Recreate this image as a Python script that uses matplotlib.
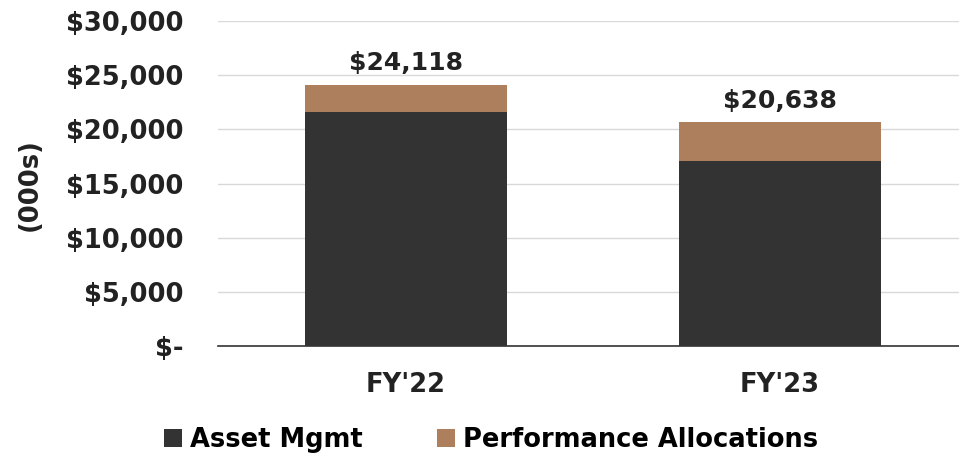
import matplotlib.pyplot as plt
from matplotlib.ticker import FuncFormatter

# datos del grafico
years = ["FY'22", "FY'23"]
asset_mgmt = [21575, 17035]
perf_alloc = [2543, 3603]
totals = [24118, 20638]
yticks = [0, 5000, 10000, 15000, 20000, 25000, 30000]

dark = '#333333'
brown = '#AE7F5C'
plt.rcParams['font.family'] = ['DejaVu Sans']
plt.rcParams['font.weight'] = 'bold'

fig = plt.figure(figsize=(9.59, 4.59), dpi=100)
ax = fig.add_axes([218/959, (459-346)/459, 1 - 218/959, (346-21)/459])

x = range(len(years))
ax.bar(x, asset_mgmt, width=0.54, color=dark, label='Asset Mgmt', zorder=3)
ax.bar(x, perf_alloc, width=0.54, bottom=asset_mgmt, color=brown,
       label='Performance Allocations', zorder=3)

for i, t in enumerate(totals):
    ax.text(i, t + 900, '${:,}'.format(t), ha='center', va='bottom',
            fontsize=18, fontweight='bold', color='#222222')

#formato del eje y
def fmt(v, pos):
    if v == 0:
        return '$-'
    return '${:,.0f}'.format(v)

ax.set_ylim(0, 30000)
ax.set_xlim(-0.503, 1.479)
ax.set_yticks(yticks)
ax.yaxis.set_major_formatter(FuncFormatter(fmt))
ax.set_xticks(list(x))
ax.set_xticklabels(years)
ax.tick_params(axis='both', length=0, labelsize=18.5, colors='#222222')
ax.tick_params(axis='y', pad=25)
ax.tick_params(axis='x', pad=19)
ax.grid(axis='y', color='#d9d9d9', linewidth=1, zorder=0)
for s in ['top', 'right', 'left']:
    ax.spines[s].set_visible(False)
ax.spines['bottom'].set_color('#333333')
ax.spines['bottom'].set_linewidth(1.2)
ax.spines['bottom'].set_zorder(4)

fig.text(30/959, (459-185)/459, '(000s)', rotation=90, ha='center', va='center',
         fontsize=18.5, fontweight='bold', color='#222222')

handles, labels = ax.get_legend_handles_labels()
fig.legend(handles, labels, loc='center', bbox_to_anchor=(491/959, (459-440)/459),
           ncol=2, frameon=False, fontsize=18.5, handlelength=0.7, handleheight=0.7,
           handletextpad=0.3, columnspacing=2.9)

fig.savefig('out.png', dpi=100)
